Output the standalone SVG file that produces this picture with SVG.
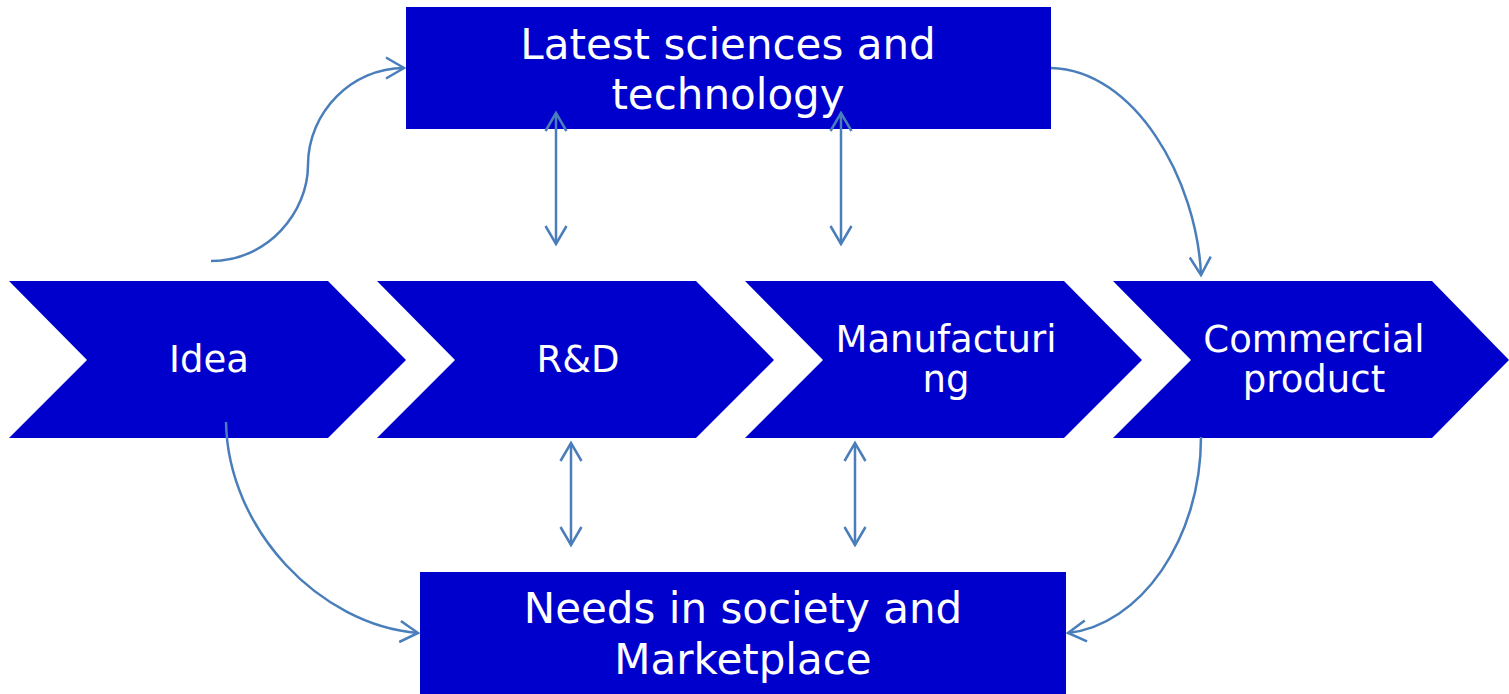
<svg xmlns="http://www.w3.org/2000/svg" width="1509" height="694" viewBox="0 0 1509 694">
<style>
.box{fill:#0000CC;}
.t{fill:#fff;font-family:"DejaVu Sans","Verdana",sans-serif;text-anchor:middle;}
.big{font-size:42px;}
.mid{font-size:37px;}
.c{fill:none;stroke:#4A7EBB;stroke-width:2.5;}
</style>
<defs>
<marker id="ah" markerUnits="userSpaceOnUse" viewBox="-20 -12 22 24" refX="0" refY="0" markerWidth="22" markerHeight="24" orient="auto-start-reverse" overflow="visible">
<path d="M-18,-10.5 L0,0 L-18,10.5" fill="none" stroke="#4A7EBB" stroke-width="2.5"/>
</marker>
</defs>
<rect width="1509" height="694" fill="#fff"/>
<g id="top">
<rect class="box" x="406" y="7" width="645" height="122"/>
<text class="t big" x="728" y="59">Latest sciences and</text>
<text class="t big" x="728" y="109">technology</text>
</g>
<g id="bottom">
<rect class="box" x="420" y="572" width="646" height="122"/>
<text class="t big" x="743" y="623">Needs in society and</text>
<text class="t big" x="743" y="674">Marketplace</text>
</g>
<g id="idea">
<polygon class="box" points="9,281 328,281 406,360 328,438 9,438 87,360"/>
<text class="t mid" x="209" y="372">Idea</text>
</g>
<g id="rnd">
<polygon class="box" points="377,281 696,281 774,360 696,438 377,438 455,360"/>
<text class="t mid" x="578" y="372">R&amp;D</text>
</g>
<g id="manufacturing">
<polygon class="box" points="745,281 1064,281 1142,360 1064,438 745,438 823,360"/>
<text class="t mid" x="946" y="352">Manufacturi</text>
<text class="t mid" x="946" y="392">ng</text>
</g>
<g id="commercial">
<polygon class="box" points="1113,281 1432,281 1509,360 1432,438 1113,438 1191,360"/>
<text class="t mid" x="1314" y="352">Commercial</text>
<text class="t mid" x="1314" y="392">product</text>
</g>
<g id="connectors">
<path class="c" d="M211,261 C268,261 308,212 308,165 C308,112 352,68 404,68" marker-end="url(#ah)"/>
<path class="c" d="M1051,68 C1135,70 1197,180 1201,275" marker-end="url(#ah)"/>
<path class="c" d="M1201,437 C1201,540 1140,625 1068,633" marker-end="url(#ah)"/>
<path class="c" d="M226,422 C228,530 320,625 418,633" marker-end="url(#ah)"/>
<path class="c" d="M556,113 L556,244" marker-start="url(#ah)" marker-end="url(#ah)"/>
<path class="c" d="M841,113 L841,244" marker-start="url(#ah)" marker-end="url(#ah)"/>
<path class="c" d="M571,443 L571,545" marker-start="url(#ah)" marker-end="url(#ah)"/>
<path class="c" d="M855,443 L855,545" marker-start="url(#ah)" marker-end="url(#ah)"/>
</g>
</svg>
